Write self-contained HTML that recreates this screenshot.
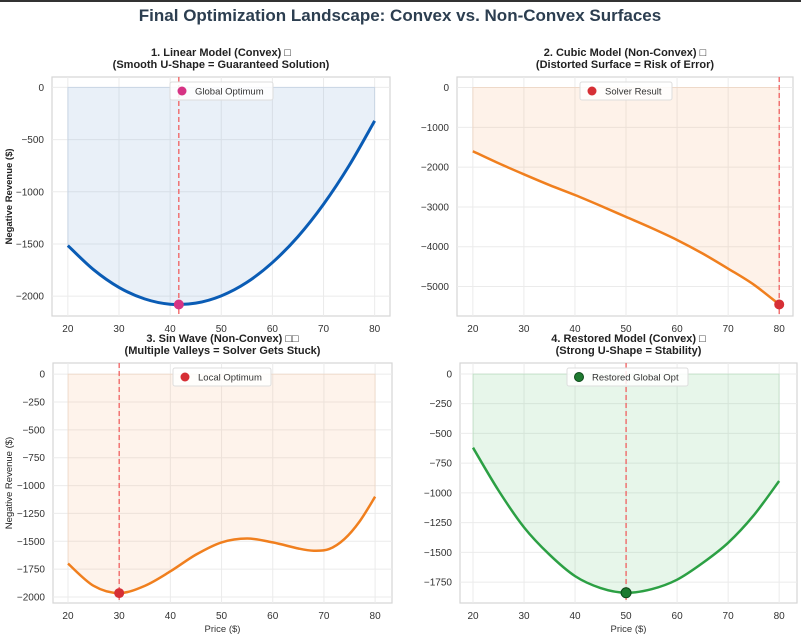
<!DOCTYPE html>
<html><head><meta charset="utf-8"><style>
html,body{margin:0;padding:0;background:#fff;}
svg{display:block;font-family:"Liberation Sans",Arial,sans-serif;}
</style></head><body>
<svg id="fig" width="801" height="639" viewBox="0 0 801 639">
<rect x="0" y="0" width="801" height="2" fill="#333"/>
<text x="400" y="21" text-anchor="middle" font-size="17" font-weight="bold" fill="#2c3e50">Final Optimization Landscape: Convex vs. Non-Convex Surfaces</text>
</svg>
<script>
const xs1 = [20,25,30,35,40,45,50,55,60,65,70,75,80];
const ys1 = [-1515,-1745,-1916,-2026,-2077,-2067,-1997,-1868,-1678,-1429,-1119,-749,-320];
const xs2 = [20,25,30,35,40,45,50,55,60,65,70,75,80];
const ys2 = [-1600,-1900,-2180,-2450,-2700,-2970,-3250,-3530,-3830,-4170,-4550,-4950,-5450];
const xs3 = [20,25,30,35,40,45,50,55,60,65,68,71,74,77,80];
const ys3 = [-1700,-1900,-1965,-1900,-1770,-1620,-1510,-1475,-1510,-1565,-1585,-1570,-1480,-1320,-1100];
const xs4 = [20,25,30,35,40,45,50,55,60,65,70,75,80];
const ys4 = [-620,-980,-1290,-1520,-1700,-1800,-1840,-1810,-1730,-1590,-1420,-1190,-900];
const opt1 = [41.7,-2080], opt2 = [80,-5450], opt3 = [30,-1965], opt4 = [50,-1840];
const xticks = [20,30,40,50,60,70,80];
const yticks1 = [0,-500,-1000,-1500,-2000];
const yticks2 = [0,-1000,-2000,-3000,-4000,-5000];
const yticks3 = [0,-250,-500,-750,-1000,-1250,-1500,-1750,-2000];
const yticks4 = [0,-250,-500,-750,-1000,-1250,-1500,-1750];

const NS="http://www.w3.org/2000/svg";
const svg=document.getElementById('fig');
function mk(tag,attrs,parent){const e=document.createElementNS(NS,tag);for(const k in attrs)e.setAttribute(k,attrs[k]);(parent||svg).appendChild(e);return e;}

function panel(p){
  const g=mk('g',{});
  
  
  const sx=v=>p.L+(v-p.x0)/(p.x1-p.x0)*(p.R-p.L);
  const sy=v=>p.T+(p.y1-v)/(p.y1-p.y0)*(p.B-p.T);
  const bg=mk('rect',{x:p.L,y:p.T,width:p.R-p.L,height:p.B-p.T,fill:'#fff',stroke:'#d5d5d5','stroke-width':1.2},g);
  
  
  p.xt.forEach(t=>{
    mk('line',{x1:sx(t),x2:sx(t),y1:p.T,y2:p.B,stroke:'#ebebeb','stroke-width':1},g);
    const tx=mk('text',{x:sx(t),y:p.B+16,'text-anchor':'middle','font-size':10,fill:'#333'},g);
    tx.textContent=t;
    
    
  });
  p.yt.forEach(t=>{
    mk('line',{x1:p.L,x2:p.R,y1:sy(t),y2:sy(t),stroke:'#ebebeb','stroke-width':1},g);
    const tx=mk('text',{x:p.L-8,y:sy(t)+3.5,'text-anchor':'end','font-size':10,fill:'#333'},g);
    tx.textContent=t===0?'0':'\u2212'+Math.abs(t);
    
    
  });
  const pts=p.xs.map((x,i)=>[sx(x),sy(p.ys[i])]);
  let d='M'+pts[0][0]+','+pts[0][1];
  for(let i=0;i<pts.length-1;i++){
    const p0=pts[Math.max(0,i-1)],p1=pts[i],p2=pts[i+1],p3=pts[Math.min(pts.length-1,i+2)];
    const c1=[p1[0]+(p2[0]-p0[0])/6,p1[1]+(p2[1]-p0[1])/6];
    const c2=[p2[0]-(p3[0]-p1[0])/6,p2[1]-(p3[1]-p1[1])/6];
    d+=' C'+c1[0]+','+c1[1]+' '+c2[0]+','+c2[1]+' '+p2[0]+','+p2[1];
  }
  const fillD=d+' L'+pts[pts.length-1][0]+','+sy(0)+' L'+pts[0][0]+','+sy(0)+' Z';
  const fa=mk('path',{d:fillD,fill:p.fill,'fill-opacity':0.15,stroke:p.fill,'stroke-opacity':0.2},g);
  
  
  const ln=mk('path',{d:d,fill:'none',stroke:p.color,'stroke-width':p.lw||2.5},g);
  
  
  const vl=mk('line',{x1:sx(p.opt[0]),x2:sx(p.opt[0]),y1:p.T,y2:p.B,stroke:'#f06060','stroke-width':1.3,'stroke-dasharray':'5,3'},g);
  
  
  const pt=mk('circle',{cx:sx(p.opt[0]),cy:sy(p.opt[1]),r:5,fill:p.mk,stroke:p.mkStroke||'none','stroke-width':1},g);
  
  
  const lg=mk('g',{},g);
  
  
  mk('rect',{x:p.lx,y:p.T+5,width:p.lw2,height:18,rx:2,fill:'#fff','fill-opacity':0.85,stroke:'#ddd'},lg);
  mk('circle',{cx:p.lx+12,cy:p.T+14,r:4.5,fill:p.mk,stroke:p.mkStroke||'none'},lg);
  const lt=mk('text',{x:p.lx+25,y:p.T+17.5,'font-size':9.5,fill:'#333'},lg);
  lt.textContent=p.leg;
  p.title.forEach((s,i)=>{
    const t=mk('text',{x:(p.L+p.R)/2,y:p.T-21+i*12,'text-anchor':'middle','font-size':11,'font-weight':'bold',fill:'#222'},g);
    t.textContent=s;
    
    
  });
  if(p.ylab){const t=mk('text',{x:0,y:0,transform:`translate(12,${(p.T+p.B)/2}) rotate(-90)`,'text-anchor':'middle','font-size':9.5,'font-weight':p.ylabBold?'bold':'normal',fill:'#222'},g);t.textContent=p.ylab;}
  if(p.xlab){const t=mk('text',{x:(p.L+p.R)/2,y:p.B+29,'text-anchor':'middle','font-size':9.5,fill:'#333'},g);t.textContent=p.xlab;}
}
panel({name:'panel-linear',L:52,R:390,T:77,B:316,x0:16.9,x1:83.0,y0:-2190,y1:100,xs:xs1,ys:ys1,xt:xticks,yt:yticks1,fill:'#6a9bd1',color:'#0a5cb5',lw:3,opt:opt1,mk:'#d63384',leg:'Global Optimum',lx:170,lw2:103,title:['1. Linear Model (Convex) \u25A1','(Smooth U-Shape = Guaranteed Solution)'],ylab:'Negative Revenue ($)',ylabBold:true});
panel({name:'panel-cubic',L:457,R:793,T:77,B:316,x0:16.9,x1:82.7,y0:-5740,y1:265,xs:xs2,ys:ys2,xt:xticks,yt:yticks2,fill:'#f5a56a',color:'#f07f1e',lw:2.5,opt:opt2,mk:'#d62f35',leg:'Solver Result',lx:580,lw2:92,title:['2. Cubic Model (Non-Convex) \u25A1','(Distorted Surface = Risk of Error)']});
panel({name:'panel-sin',L:53,R:392,T:363,B:603,x0:17.07,x1:83.3,y0:-2054,y1:100,xs:xs3,ys:ys3,xt:xticks,yt:yticks3,fill:'#f5b07a',color:'#f07f1e',lw:2.5,opt:opt3,mk:'#d62f35',leg:'Local Optimum',lx:173,lw2:98,title:['3. Sin Wave (Non-Convex) \u25A1\u25A1','(Multiple Valleys = Solver Gets Stuck)'],ylab:'Negative Revenue ($)',xlab:'Price ($)'});
panel({name:'panel-restored',L:460,R:797,T:363,B:603,x0:17.45,x1:83.5,y0:-1926,y1:92,xs:xs4,ys:ys4,xt:xticks,yt:yticks4,fill:'#5cc070',color:'#2ca044',lw:2.5,opt:opt4,mk:'#1e7a30',mkStroke:'#0d4a1a',leg:'Restored Global Opt',lx:567,lw2:121,title:['4. Restored Model (Convex) \u25A1','(Strong U-Shape = Stability)'],xlab:'Price ($)'});
</script>
</body></html>
